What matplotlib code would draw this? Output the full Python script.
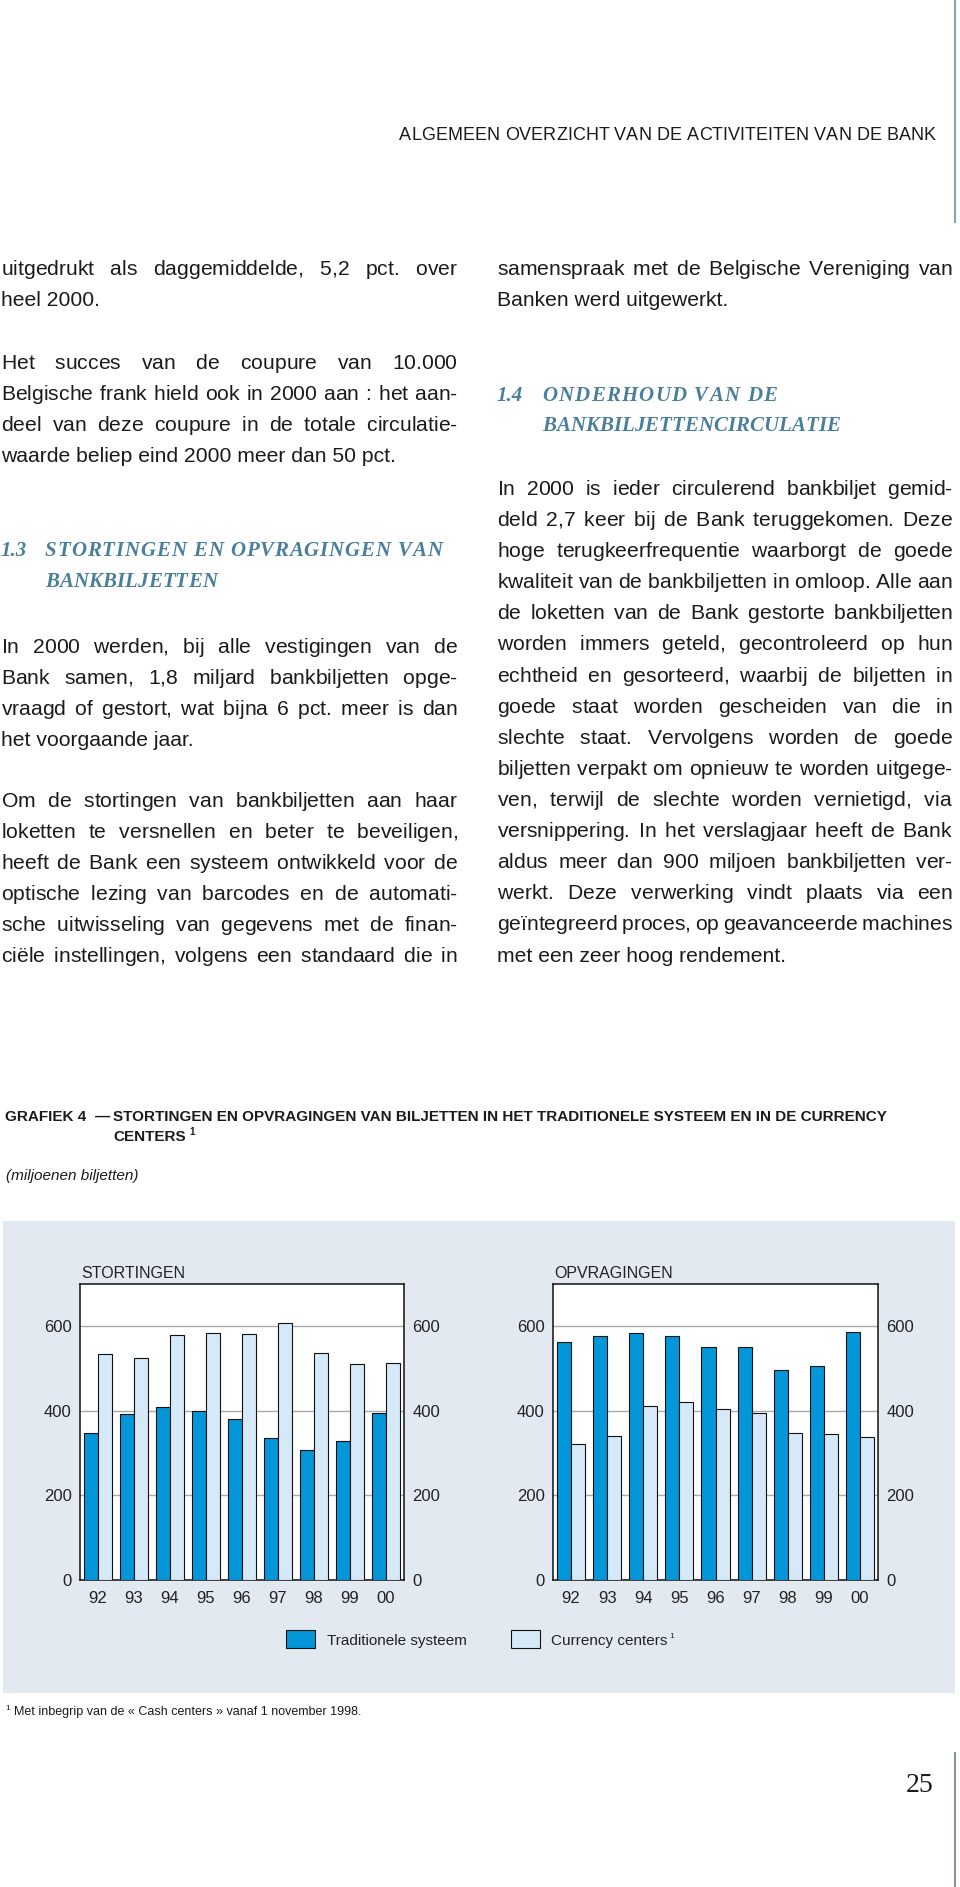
import numpy as np
import matplotlib
matplotlib.use('Agg')
import matplotlib.pyplot as plt
from matplotlib.patches import Rectangle

# --- gegevens (miljoenen biljetten) ---
years = ['92', '93', '94', '95', '96', '97', '98', '99', '00']
stort_trad = [347, 392, 410, 399, 380, 335, 308, 328, 395]
stort_cc = [534, 524, 579, 585, 582, 607, 537, 510, 514]
opvr_trad = [563, 576, 584, 576, 550, 552, 496, 505, 587]
opvr_cc = [321, 340, 412, 420, 404, 394, 347, 345, 339]
y_ticks = [0, 200, 400, 600]

W, H = 960, 1887
BLUE = '#0396d8'
LIGHT = '#d5e9f8'
HEAD = '#4a7f9b'
INK = '#1b1b1b'

plt.rcParams['font.family'] = ['Liberation Sans', 'DejaVu Sans']

fig = plt.figure(figsize=(W / 100, H / 100), dpi=100)
fig.patch.set_facecolor('white')
renderer = fig.canvas.get_renderer()


def fx(x):
    return x / W


def fy(y):
    return 1 - y / H


def width_of(s, **kw):
    t = fig.text(0, 0, s, **kw)
    w = t.get_window_extent(renderer).width
    t.remove()
    return w


def put(s, x0, y, **kw):
    fig.text(fx(x0), fy(y), s, va='baseline', ha='left', **kw)


def justify(s, x0, y, x1, **kw):
    # uitvullen: één tekstobject, extra ruimte tussen de woorden via \hspace
    words = s.split(' ')
    em = (width_of('a$\\hspace{10}$a', **kw) - width_of('a$\\hspace{0}$a', **kw)) / 10
    w0 = width_of('$\\hspace{0}$'.join(words), **kw)
    g = (x1 - x0 - w0) / (len(words) - 1) / em
    put(('$\\hspace{%.4f}$' % g).join(words), x0, y, **kw)


def track(s, x0, y, x1, **kw):
    # letterspatiëring: elke letter apart, gelijk verdeeld tot x1
    parts = list(s)
    sp = width_of('n n', **kw) - width_of('nn', **kw)
    ws = [sp if p == ' ' else width_of(p, **kw) for p in parts]
    gap = (x1 - x0 - sum(ws)) / (len(parts) - 1)
    x = x0
    for p, w in zip(parts, ws):
        if p.strip():
            put(p, x, y, **kw)
        x += w + gap


# --- kopregel en randlijnen ---
track('ALGEMEEN OVERZICHT VAN DE ACTIVITEITEN VAN DE BANK', 399, 140, 936,
      fontsize=13, color=INK)
fig.add_artist(plt.Line2D([fx(955), fx(955)], [fy(0), fy(222)],
                          color='#8fa2b0', lw=1.5, transform=fig.transFigure))
fig.add_artist(plt.Line2D([fx(955), fx(955)], [fy(1753), fy(1887)],
                          color='#8a959e', lw=1.5, transform=fig.transFigure))
put('25', 906, 1792, fontsize=20, family=['Liberation Serif'], color=INK)

# --- lopende tekst ---
body = dict(fontsize=15.2, color=INK)
step = 31.1

left_blocks = [
    (275, ['uitgedrukt als daggemiddelde, 5,2 pct. over', 'heel 2000.'], False),
    (369, ['Het succes van de coupure van 10.000',
           'Belgische frank hield ook in 2000 aan : het aan-',
           'deel van deze coupure in de totale circulatie-',
           'waarde beliep eind 2000 meer dan 50 pct.'], False),
    (653, ['In 2000 werden, bij alle vestigingen van de',
           'Bank samen, 1,8 miljard bankbiljetten opge-',
           'vraagd of gestort, wat bijna 6 pct. meer is dan',
           'het voorgaande jaar.'], False),
    (807, ['Om de stortingen van bankbiljetten aan haar',
           'loketten te versnellen en beter te beveiligen,',
           'heeft de Bank een systeem ontwikkeld voor de',
           'optische lezing van barcodes en de automati-',
           'sche uitwisseling van gegevens met de finan-',
           'ciële instellingen, volgens een standaard die in'], True),
]
right_blocks = [
    (275, ['samenspraak met de Belgische Vereniging van',
           'Banken werd uitgewerkt.'], False),
    (495, ['In 2000 is ieder circulerend bankbiljet gemid-',
           'deld 2,7 keer bij de Bank teruggekomen. Deze',
           'hoge terugkeerfrequentie waarborgt de goede',
           'kwaliteit van de bankbiljetten in omloop. Alle aan',
           'de loketten van de Bank gestorte bankbiljetten',
           'worden immers geteld, gecontroleerd op hun',
           'echtheid en gesorteerd, waarbij de biljetten in',
           'goede staat worden gescheiden van die in',
           'slechte staat. Vervolgens worden de goede',
           'biljetten verpakt om opnieuw te worden uitgege-',
           'ven, terwijl de slechte worden vernietigd, via',
           'versnippering. In het verslagjaar heeft de Bank',
           'aldus meer dan 900 miljoen bankbiljetten ver-',
           'werkt. Deze verwerking vindt plaats via een',
           'geïntegreerd proces, op geavanceerde machines',
           'met een zeer hoog rendement.'], False),
]

for blocks, x0, x1 in [(left_blocks, 1, 458), (right_blocks, 497, 953)]:
    for y0, lines, last_just in blocks:
        for i, ln in enumerate(lines):
            y = y0 + i * step
            if i < len(lines) - 1 or last_just:
                justify(ln, x0, y, x1, **body)
            else:
                put(ln, x0, y, **body)

# --- tussentitels ---
head = dict(fontsize=15, family=['Liberation Serif'], style='italic',
            fontweight='bold', color=HEAD)
put('1.3', 1, 556, **head)
track('STORTINGEN EN OPVRAGINGEN VAN', 45, 556, 442, **head)
track('BANKBILJETTEN', 45, 587, 217, **head)
put('1.4', 497, 401, **head)
track('ONDERHOUD VAN DE', 542, 401, 777, **head)
track('BANKBILJETTENCIRCULATIE', 542, 431, 840, **head)

# --- grafiektitel ---
ttl = dict(fontsize=11, fontweight='bold', color=INK)
put('GRAFIEK 4', 5, 1121, **ttl)
put('—', 5 + width_of('GRAFIEK 4', **ttl) + 9, 1121, **ttl)
put('STORTINGEN EN OPVRAGINGEN VAN BILJETTEN IN HET TRADITIONELE SYSTEEM EN IN DE CURRENCY',
    113, 1121, **ttl)
put('CENTERS', 113, 1141, **ttl)
put('1', 113 + width_of('CENTERS ', **ttl), 1135, fontsize=7, fontweight='bold', color=INK)
put('(miljoenen biljetten)', 6, 1180, fontsize=11, style='italic', color=INK)

# --- achtergrondvlak van de grafiek ---
fig.add_artist(Rectangle((fx(3), fy(1693)), (955 - 3) / W, (1693 - 1221) / H,
                         transform=fig.transFigure, facecolor='#e3e9f1',
                         edgecolor='none', zorder=-1))


def panel(x_left, x_right, title, trad, cc):
    ax = fig.add_axes([fx(x_left), fy(1580), (x_right - x_left) / W, (1580 - 1284) / H])
    ax.set_facecolor('white')
    x = np.arange(len(years))
    bw = 0.39
    ax.bar(x - bw / 2, trad, bw, color=BLUE, edgecolor='#111111', linewidth=0.8, zorder=3)
    ax.bar(x + bw / 2, cc, bw, color=LIGHT, edgecolor='#111111', linewidth=0.8, zorder=3)
    ax.set_xlim(-0.5, len(years) - 0.5)
    ax.set_ylim(0, 700)
    ax.set_yticks(y_ticks)
    ax.set_xticks(x)
    ax.set_xticklabels(years)
    ax.yaxis.grid(True, color='#a9a9a9', linewidth=1.0)
    ax.set_axisbelow(True)
    ax.tick_params(axis='both', length=0, labelsize=12, labelcolor='#222222')
    ax.tick_params(axis='y', pad=6, labelright=True)
    ax.tick_params(axis='x', pad=8)
    for s in ax.spines.values():
        s.set_linewidth(1.1)
        s.set_color('#111111')
    put(title, x_left + 1, 1278, fontsize=11.5, color='#222222')
    return ax


panel(80, 404, 'STORTINGEN', stort_trad, stort_cc)
panel(553, 878, 'OPVRAGINGEN', opvr_trad, opvr_cc)

# --- legenda ---
for x0, col in [(286, BLUE), (511, LIGHT)]:
    fig.add_artist(Rectangle((fx(x0), fy(1648)), 29 / W, 18 / H,
                             transform=fig.transFigure, facecolor=col,
                             edgecolor='#111111', linewidth=0.8))
put('Traditionele systeem', 327, 1645, fontsize=11, color='#222222')
put('Currency centers', 551, 1645, fontsize=11, color='#222222')
put('1', 553 + width_of('Currency centers', fontsize=11), 1638, fontsize=6, color='#222222')

# --- voetnoot ---
put('1', 5, 1710, fontsize=6, color=INK)
put('Met inbegrip van de « Cash centers » vanaf 1 november 1998.', 14, 1715,
    fontsize=9, color=INK)

fig.savefig('out.png', dpi=100, facecolor='white')
